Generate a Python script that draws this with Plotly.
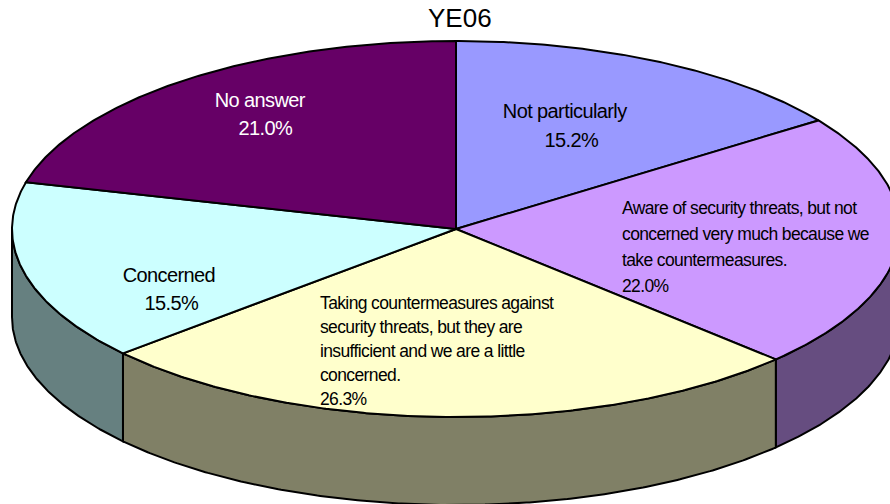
import numpy as np
import plotly.graph_objects as go

# data
title = "YE06"
categories = [
    "Not particularly",
    "Aware of security threats, but not concerned very much because we take countermeasures.",
    "Taking countermeasures against security threats, but they are insufficient and we are a little concerned.",
    "Concerned",
    "No answer",
]
shares = [15.2, 22.0, 26.3, 15.5, 21.0]
top_colors = ["#9999FF", "#CC99FF", "#FFFFCC", "#CCFFFF", "#660066"]
side_colors = ["#4D4D80", "#664D80", "#808066", "#668080", "#330033"]

label_lines = [
    ["Not particularly", "15.2%"],
    ["Aware of security threats, but not", "concerned very much because we", "take countermeasures.", "22.0%"],
    ["Taking countermeasures against", "security threats, but they are", "insufficient and we are a little", "concerned.", "26.3%"],
    ["Concerned", "15.5%"],
    ["No answer", "21.0%"],
]

# pie geometry in page pixels
cx, cy = 456, 229
rx, ry = 444, 188
depth = 88


def arc(a0, a1):
    t = np.linspace(a0, a1, max(int(abs(a1 - a0) * 150), 2))
    return cx + rx * np.sin(t), cy - ry * np.cos(t)


fig = go.Figure()

edges = np.cumsum([0] + shares) / 100 * 2 * np.pi

# side wall, only the front half of the pie can be seen
for i in range(len(shares)):
    a0 = max(edges[i], np.pi / 2)
    a1 = min(edges[i + 1], 3 * np.pi / 2)
    if a1 <= a0:
        continue
    x, y = arc(a0, a1)
    fig.add_trace(go.Scatter(
        x=np.concatenate([x, x[::-1], x[:1]]),
        y=np.concatenate([y, y[::-1] + depth, y[:1]]),
        mode="lines", fill="toself", fillcolor=side_colors[i],
        line=dict(color="black", width=2), hoverinfo="skip", showlegend=False))

# top face
for i in range(len(shares)):
    x, y = arc(edges[i], edges[i + 1])
    fig.add_trace(go.Scatter(
        x=np.concatenate([[cx], x, [cx]]),
        y=np.concatenate([[cy], y, [cy]]),
        mode="lines", fill="toself", fillcolor=top_colors[i],
        line=dict(color="black", width=2), name=categories[i],
        hoverinfo="skip", showlegend=False))

# labels: (x of each line, anchor, first line y, line step, font size, colour)
label_pos = [
    ([564, 571], "center", 111, 28.5, 20, "black"),
    ([620] * 4, "left", 208, 26, 17.5, "black"),
    ([318] * 5, "left", 302.5, 24, 17.5, "black"),
    ([169, 171.5], "center", 274.5, 28.5, 20, "black"),
    ([260, 265.5], "center", 100, 28, 20, "white"),
]

annotations = [dict(x=460, y=18, text=title, showarrow=False,
                    font=dict(size=26, color="black"))]
for lines, (xs, anchor, ly, step, size, color) in zip(label_lines, label_pos):
    for j, line in enumerate(lines):
        annotations.append(dict(x=xs[j], y=ly + j * step, text=line, showarrow=False,
                                xanchor=anchor, font=dict(size=size, color=color)))

fig.update_layout(
    width=890, height=504,
    margin=dict(l=0, r=0, t=0, b=0),
    paper_bgcolor="white", plot_bgcolor="white",
    font=dict(family="Liberation Sans"),
    xaxis=dict(range=[0, 890], visible=False, fixedrange=True),
    yaxis=dict(range=[504, 0], visible=False, fixedrange=True),
    annotations=annotations,
)

# page has a default body margin, and the labels in the original are set tight;
# the small labels are left aligned so they get moved back after tightening
post_script = """
document.body.style.margin = '0';
document.body.style.overflow = 'hidden';
document.querySelectorAll('.annotation-text').forEach(function (el) {
    var size = parseFloat(el.style.fontSize);
    if (size > 25) { return; }
    var left = el.getBBox().x;
    el.style.letterSpacing = size < 19 ? '-0.62px' : '-0.6px';
    if (size < 19) {
        el.setAttribute('transform', 'translate(' + (left - el.getBBox().x) + ',0)');
    }
});
"""

fig.write_html("out.html", config=dict(displayModeBar=False), post_script=post_script)
